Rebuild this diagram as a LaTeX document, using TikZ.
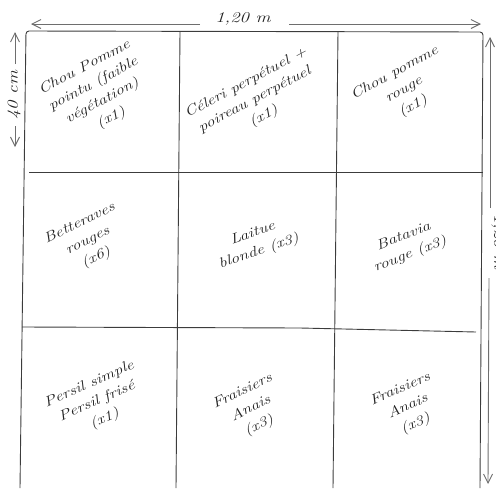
\documentclass[tikz,border=0pt]{standalone}
\usetikzlibrary{arrows.meta}
\definecolor{ink}{HTML}{222222}
\definecolor{grid}{HTML}{3C3C3C}
\definecolor{dim}{HTML}{6E6E6E}
\begin{document}
\begin{tikzpicture}[x=1pt,y=-1pt,
  gridline/.style={draw=grid,line width=0.9pt},
  dimline/.style={draw=dim,line width=0.9pt,-{Straight Barb[length=9pt,width=9pt]}},
  celltext/.style={text=ink,align=center,font=\fontsize{14}{19}\selectfont\itshape,inner sep=0pt},
  dimtext/.style={text=ink,font=\fontsize{15}{17}\selectfont\itshape,inner sep=0pt}]
\useasboundingbox (0,0) rectangle (496,488);
% grid corners
\coordinate (tl) at (26,31);
\coordinate (tr) at (483,32);
\coordinate (bl) at (20,488);
\coordinate (br) at (480,488);
\coordinate (v1t) at (180,32);
\coordinate (v1b) at (176,488);
\coordinate (v2t) at (338,32);
\coordinate (v2b) at (333,488);
\coordinate (h1l) at (29,172);
\coordinate (h1r) at (483,172);
\coordinate (h2l) at (22,327);
\coordinate (h2m) at (300,328);
\coordinate (h2r) at (476,332);
% outer frame
\draw[gridline,rounded corners=3pt] (bl) -- (tl) -- (tr) -- (br);
\draw[gridline] (v1t) -- (v1b);
\draw[gridline] (v2t) -- (v2b);
\draw[gridline] (h1l) -- (h1r);
\draw[gridline] (h2l) -- (h2m) -- (h2r);
% top dimension
\coordinate (ta1) at (200,24);
\coordinate (ta0) at (31,24);
\coordinate (tb1) at (289,24);
\coordinate (tb0) at (481,24);
\draw[dimline] (ta1) -- (ta0);
\draw[dimline] (tb1) -- (tb0);
\node[dimtext,xscale=1.25] (toplab) at (243,19) {1,20 m};
% left dimension
\coordinate (la1) at (15,64);
\coordinate (la0) at (15,32);
\coordinate (lb1) at (15,126);
\coordinate (lb0) at (15,147);
\draw[dimline] (la1) -- (la0);
\draw[dimline] (lb1) -- (lb0);
\node[dimtext,rotate=90,xscale=1.25] (leftlab) at (14,95) {40 cm};
% right dimension
\coordinate (ra1) at (490,208);
\coordinate (ra0) at (490,37);
\coordinate (rb1) at (489,278);
\coordinate (rb0) at (488,484);
\draw[dimline] (ra1) -- (ra0);
\draw[dimline] (rb1) -- (rb0);
\node[dimtext,rotate=-90,xscale=1.25] (rightlab) at (498,242) {1,20 m};
% cell texts
\node[celltext,rotate=28,xscale=1.25] (c11) at (98,93) {Chou Pomme\\pointu (faible\\végétation)\\(x1)};
\node[celltext,rotate=28,xscale=1.25] (c12) at (255,100) {Céleri perpétuel +\\poireau perpétuel\\(x1)};
\node[celltext,rotate=29,xscale=1.25] (c13) at (404,90) {Chou pomme\\rouge\\(x1)};
\node[celltext,rotate=26,xscale=1.25] (c21) at (88,241) {Betteraves\\rouges\\(x6)};
\node[celltext,rotate=19,xscale=1.25] (c22) at (256,243) {Laitue\\blonde (x3)};
\node[celltext,rotate=21,xscale=1.25] (c23) at (407,246) {Batavia\\rouge (x3)};
\node[celltext,rotate=24,xscale=1.25] (c31) at (97,402) {Persil simple\\Persil frisé\\(x1)};
\node[celltext,rotate=26,xscale=1.25] (c32) at (251,409) {Fraisiers\\Anais\\(x3)};
\node[celltext,rotate=24,xscale=1.25] (c33) at (408,407) {Fraisiers\\Anais\\(x3)};
\end{tikzpicture}
\end{document}
